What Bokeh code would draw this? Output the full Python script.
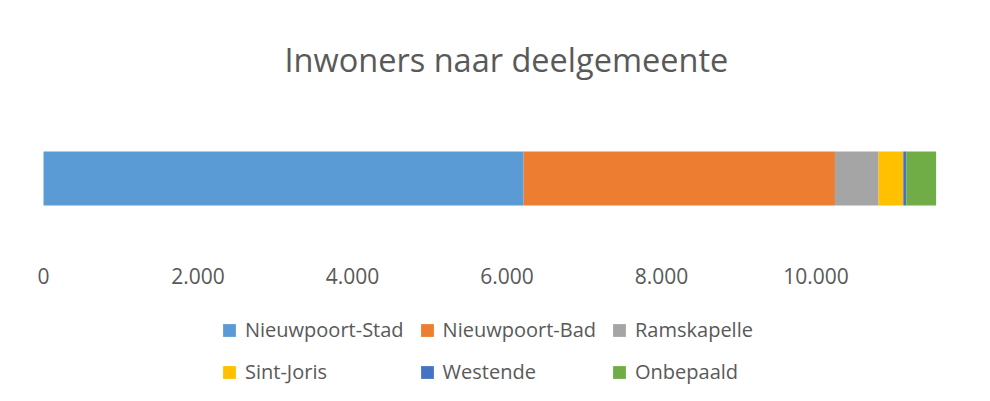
from bokeh.plotting import figure
from bokeh.models import ColumnDataSource, Legend, LegendItem, Range1d
from bokeh.core.properties import value
from bokeh.embed import file_html
from bokeh.resources import INLINE

title = "Inwoners naar deelgemeente"
series = ["Nieuwpoort-Stad", "Nieuwpoort-Bad", "Ramskapelle", "Sint-Joris", "Westende", "Onbepaald"]
values = [6215, 4030, 565, 320, 40, 385]
colors = ["#5B9BD5", "#ED7D31", "#A5A5A5", "#FFC000", "#4472C4", "#70AD47"]
ticks = [0, 2000, 4000, 6000, 8000, 10000]
tick_labels = ["0", "2.000", "4.000", "6.000", "8.000", "10.000"]

FONT = "Open Sans"
TXT = "#595959"

# vertical layout in the frame (screen-like units): bar centred at 0
BAR_Y = 0
BAR_H = 54
LABEL_Y = -97

data = {"y": [BAR_Y]}
for s, v in zip(series, values):
    data[s] = [v]
src = ColumnDataSource(data)

p = figure(width=974, height=385, output_backend="svg", toolbar_location=None,
           x_axis_type=None, y_axis_type=None,
           x_range=Range1d(-557, 12000), y_range=Range1d(-207, 65),
           min_border_left=0, min_border_right=4, min_border_top=113, min_border_bottom=0)

renderers = p.hbar_stack(series, y="y", height=BAR_H, color=colors, source=src, line_width=0)

# value-axis tick labels, placed with the plot's x scale
p.text(x=ticks, y=[LABEL_Y] * len(ticks), text=tick_labels,
       text_font=value(FONT), text_font_size="21px", text_color=TXT,
       text_align="center", text_baseline="middle")

p.title.text = title
p.title.align = "left"
p.title.offset = 284
p.title.text_font = FONT
p.title.text_font_size = "32.5px"
p.title.text_font_style = "normal"
p.title.text_color = TXT
p.title.standoff = 63

p.xgrid.visible = False
p.ygrid.visible = False
p.outline_line_color = None

items = [LegendItem(label=s, renderers=[r]) for s, r in zip(series, renderers)]
legend = Legend(items=items, orientation="horizontal", ncols=3, location=(221, 0),
                glyph_width=16, glyph_height=16, label_standoff=8, label_width=151,
                label_text_font=FONT, label_text_font_size="20px", label_text_color=TXT,
                label_height=24, spacing=15, padding=0, margin=0,
                border_line_color=None, background_fill_alpha=0)
p.add_layout(legend, "center")

open("out.html", "w").write(file_html(p, INLINE))
